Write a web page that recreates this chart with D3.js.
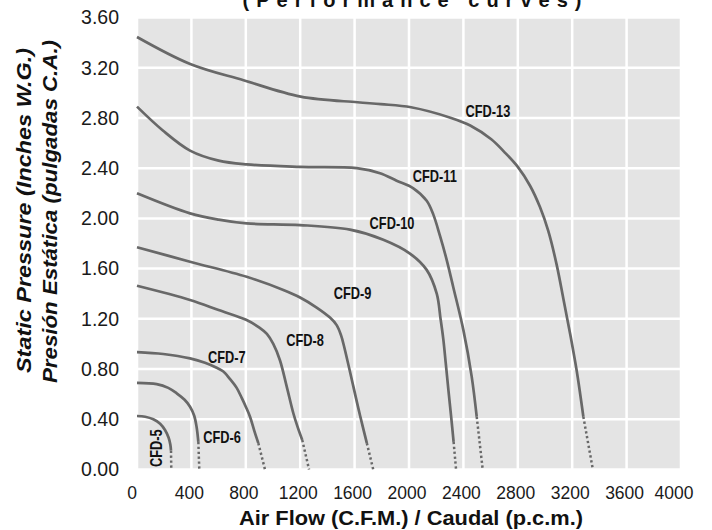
<!DOCTYPE html>
<html><head><meta charset="utf-8">
<script src="https://cdn.jsdelivr.net/npm/d3@7"></script>
<style>html,body{margin:0;padding:0;background:#fff}svg{display:block}text{font-family:"Liberation Sans",Arial,sans-serif}</style>
</head><body><svg id="c" width="712" height="530"></svg>
<script>
// ---- data (flow in CFM, pressure in inches W.G.) ----
const xTicks = [0,400,800,1200,1600,2000,2400,2800,3200,3600,4000];
const yTicks = [0,0.4,0.8,1.2,1.6,2.0,2.4,2.8,3.2,3.6];
const seriesNames = ["CFD-5","CFD-6","CFD-7","CFD-8","CFD-9","CFD-10","CFD-11","CFD-13"];
const cfd5Flow = [0,60,120,170,206,232,245,250];
const cfd5Pres = [0.426,0.42,0.40,0.365,0.315,0.255,0.20,0.15];
const cfd6Flow = [0,145,230,292,350,390,420,438,451];
const cfd6Pres = [0.69,0.68,0.65,0.607,0.555,0.50,0.43,0.34,0.22];
const cfd7Flow = [0,193,390,500,586,635,684,733,770,800,831,862,892];
const cfd7Pres = [0.935,0.92,0.885,0.85,0.81,0.78,0.72,0.65,0.57,0.50,0.42,0.31,0.21];
const cfd8Flow = [0,390,600,806,900,955,1002,1051,1101,1149,1182,1215];
const cfd8Pres = [1.463,1.35,1.27,1.19,1.13,1.08,1.00,0.87,0.66,0.45,0.335,0.235];
const cfd9Flow = [0,390,806,1076,1199,1321,1419,1468,1500,1525,1591,1640,1690];
const cfd9Pres = [1.77,1.655,1.535,1.43,1.37,1.29,1.21,1.15,1.07,0.97,0.66,0.43,0.21];
const cfd10Flow = [0,390,600,806,1199,1566,1811,2007,2130,2204,2232,2252,2270,2290,2310,2328];
const cfd10Pres = [2.20,2.04,1.99,1.96,1.947,1.91,1.83,1.72,1.59,1.40,1.20,1.04,0.85,0.63,0.42,0.22];
const cfd11Flow = [0,190,390,600,806,1199,1615,1787,1909,2032,2130,2179,2228,2277,2326,2400,2461,2498];
const cfd11Pres = [2.89,2.70,2.54,2.46,2.43,2.41,2.40,2.36,2.30,2.24,2.14,2.03,1.86,1.67,1.45,1.11,0.74,0.42];
const cfd13Flow = [0,391,783,1203,1621,1793,2015,2310,2450,2605,2700,2800,2890,2963,3024,3086,3135,3185,3234,3282];
const cfd13Pres = [3.445,3.23,3.10,2.97,2.925,2.91,2.885,2.80,2.74,2.63,2.53,2.41,2.26,2.09,1.90,1.63,1.36,1.08,0.78,0.42];
// free-delivery flow at 0 pressure (dotted extension)
const freeFlow = [252,458,941,1265,1737,2346,2542,3352];
// label anchor positions in data units
const labelFlow = [143,625,660,1235,1585,1875,2190,2580];
const labelPres = [0.17,0.26,0.895,1.03,1.40,1.965,2.335,2.855];
const labelRot = [-90,0,0,0,0,0,0,0];

const flows = [cfd5Flow,cfd6Flow,cfd7Flow,cfd8Flow,cfd9Flow,cfd10Flow,cfd11Flow,cfd13Flow];
const pres = [cfd5Pres,cfd6Pres,cfd7Pres,cfd8Pres,cfd9Pres,cfd10Pres,cfd11Pres,cfd13Pres];

const svg = d3.select("#c");
const L=137, R=681, T=17.5, B=469.5;
const x = d3.scaleLinear().domain([0,4000]).range([L,R]);
const y = d3.scaleLinear().domain([0,3.6]).range([B,T]);

svg.append("rect").attr("x",L).attr("y",T).attr("width",R-L).attr("height",B-T).attr("fill","#e4e4e4");
const g = svg.append("g");
g.selectAll(".vx").data(xTicks).join("line").attr("x1",d=>x(d)).attr("x2",d=>x(d)).attr("y1",T).attr("y2",B)
  .attr("stroke","#fff").attr("stroke-width",2.5);
g.selectAll(".hy").data(yTicks).join("line").attr("y1",d=>y(d)).attr("y2",d=>y(d)).attr("x1",L).attr("x2",R)
  .attr("stroke","#fff").attr("stroke-width",2.5);

// ticks labels
svg.append("g").selectAll("text").data(yTicks).join("text")
  .attr("x",119).attr("y",d=>y(d)).attr("dy","0.35em").attr("text-anchor","end")
  .attr("font-size","19.5px").attr("fill","#1a1a1a").text(d=>d3.format(".2f")(d));
const xOff = d => d===0 ? -5 : (d===4000 ? -7 : -2);
svg.append("g").selectAll("text").data(xTicks).join("text")
  .attr("x",d=>x(d)+xOff(d)).attr("y",499).attr("text-anchor","middle")
  .attr("font-size","17.5px").attr("fill","#1a1a1a").text(d=>d);

// curves
const line = d3.line().x(d=>x(d[0])).y(d=>y(d[1])).curve(d3.curveCatmullRom.alpha(0.5));
flows.forEach((f,i)=>{
  const pts = f.map((v,j)=>[v,pres[i][j]]);
  svg.append("path").attr("d",line(pts)).attr("fill","none").attr("stroke","#686868").attr("stroke-width",2.7);
  const last = pts[pts.length-1];
  svg.append("path").attr("d",d3.line().x(d=>x(d[0])).y(d=>y(d[1]))([last,[freeFlow[i],0]]))
    .attr("fill","none").attr("stroke","#686868").attr("stroke-width",2.5).attr("stroke-dasharray","2.3,2.6");
});

// labels
seriesNames.forEach((n,i)=>{
  svg.append("text").attr("transform",`translate(${x(labelFlow[i])},${y(labelPres[i])}) rotate(${labelRot[i]}) scale(0.8,1)`)
    .attr("text-anchor","middle").attr("dy","0.36em").attr("font-size","16px").attr("font-weight","bold")
    .attr("fill","#111").text(n);
});

// titles
svg.append("text").attr("x",412).attr("y",6.5).attr("text-anchor","middle").attr("font-size","20px")
  .attr("font-weight","bold").attr("fill","#111").attr("textLength",339).attr("lengthAdjust","spacing")
  .text("(Performance curves)");
svg.append("text").attr("x",411).attr("y",524.5).attr("text-anchor","middle").attr("font-size","20.5px")
  .attr("font-weight","bold").attr("fill","#111").attr("textLength",344).attr("lengthAdjust","spacingAndGlyphs")
  .text("Air Flow (C.F.M.) / Caudal (p.c.m.)");
svg.append("text").attr("transform","translate(31,210.5) rotate(-90)").attr("text-anchor","middle")
  .attr("font-size","21px").attr("font-weight","bold").attr("font-style","italic").attr("fill","#111")
  .attr("textLength",325).attr("lengthAdjust","spacingAndGlyphs").text("Static Pressure (Inches W.G.)");
svg.append("text").attr("transform","translate(57,211.5) rotate(-90)").attr("text-anchor","middle")
  .attr("font-size","21px").attr("font-weight","bold").attr("font-style","italic").attr("fill","#111")
  .attr("textLength",343).attr("lengthAdjust","spacingAndGlyphs").text("Presión Estática (pulgadas C.A.)");
</script></body></html>
